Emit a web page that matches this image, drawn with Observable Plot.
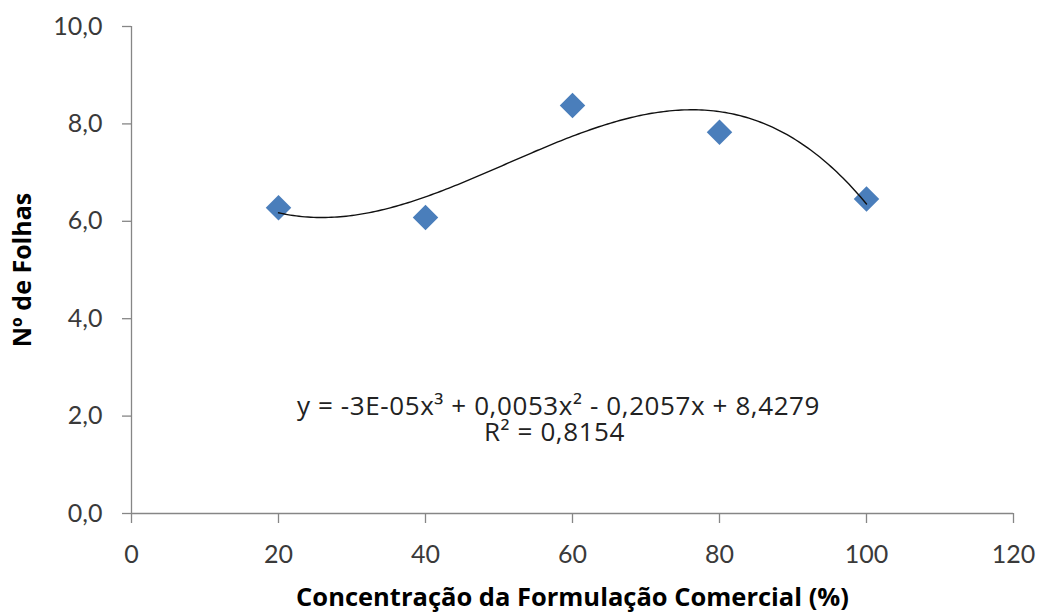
<!DOCTYPE html>
<html>
<head>
<meta charset="utf-8">
<script src="https://cdn.jsdelivr.net/npm/d3@7"></script>
<script src="https://cdn.jsdelivr.net/npm/@observablehq/plot@0.6"></script>
<style>
  html, body { margin: 0; padding: 0; background: #fff; }
</style>
</head>
<body>
<div id="chart"></div>
<script>
// ---- data ----
const concentration = [20, 40, 60, 80, 100];
const leaves = [6.28, 6.08, 8.38, 7.83, 6.46];
const xTicks = [0, 20, 40, 60, 80, 100, 120];
const yTicks = [0, 2, 4, 6, 8, 10];
const equationLines = ["y = -3E-05x³ + 0,0053x² - 0,2057x + 8,4279", "R² = 0,8154"];
const xLabel = "Concentração da Formulação Comercial (%)";
const yLabel = "Nº de Folhas";

const points = concentration.map((x, i) => ({x, y: leaves[i]}));

// Polynomial (order 3) least-squares trendline fitted to the points, as the source chart does
function polyfit(xs, ys, deg) {
  const n = deg + 1;
  const A = Array.from({length: n}, () => new Array(n + 1).fill(0));
  for (let k = 0; k < xs.length; k++) {
    for (let i = 0; i < n; i++) {
      for (let j = 0; j < n; j++) A[i][j] += Math.pow(xs[k], i + j);
      A[i][n] += ys[k] * Math.pow(xs[k], i);
    }
  }
  for (let c = 0; c < n; c++) {
    let p = c;
    for (let r = c + 1; r < n; r++) if (Math.abs(A[r][c]) > Math.abs(A[p][c])) p = r;
    [A[c], A[p]] = [A[p], A[c]];
    for (let r = 0; r < n; r++) {
      if (r === c) continue;
      const f = A[r][c] / A[c][c];
      for (let j = c; j <= n; j++) A[r][j] -= f * A[c][j];
    }
  }
  return A.map((row, i) => row[n] / row[i]);
}
const coef = polyfit(concentration, leaves, 3);
const fitAt = x => coef.reduce((s, c, i) => s + c * Math.pow(x, i), 0);
const xMin = d3.min(concentration), xMax = d3.max(concentration);
const trend = d3.range(0, 201).map(i => {
  const x = xMin + (xMax - xMin) * i / 200;
  return {x, y: fitAt(x)};
});

const fmtY = d => d.toFixed(1).replace(".", ",");

const chart = Plot.plot({
  width: 1038,
  height: 613,
  marginLeft: 131,
  marginRight: 25,
  marginTop: 26,
  marginBottom: 100,
  style: {fontFamily: "Lato, 'Open Sans', sans-serif", background: "#fff"},
  x: {domain: [0, 120], ticks: xTicks},
  y: {domain: [0, 10], ticks: yTicks},
  marks: [
    Plot.ruleX([0], {stroke: "#868686", strokeWidth: 1.3}),
    Plot.ruleY([0], {stroke: "#868686", strokeWidth: 1.3}),
    Plot.axisY(yTicks, {
      tickSize: 9, tickPadding: 20, stroke: "#868686", strokeWidth: 1.3,
      fill: "#3a3a3a", fontSize: 25, tickFormat: fmtY, label: null
    }),
    Plot.axisX(xTicks, {
      tickSize: 10, tickPadding: 22, stroke: "#868686", strokeWidth: 1.3,
      fill: "#3a3a3a", fontSize: 25, tickFormat: d => String(d), label: null
    }),
    Plot.dot(points, {
      x: "x", y: "y", symbol: "diamond2", r: 11.5,
      fill: "#4a7ebb", stroke: "none"
    }),
    Plot.line(trend, {x: "x", y: "y", stroke: "#111", strokeWidth: 1.4}),
    Plot.text([equationLines[0]], {
      frameAnchor: "bottom", textAnchor: "middle", lineAnchor: "bottom", dx: -14, dy: -99,
      fontSize: 26, fill: "#222", fontFamily: "'Open Sans', sans-serif"
    }),
    Plot.text([equationLines[1]], {
      frameAnchor: "bottom", textAnchor: "middle", lineAnchor: "bottom", dx: -18, dy: -73,
      fontSize: 26, fill: "#222", fontFamily: "'Open Sans', sans-serif"
    }),
    Plot.text([yLabel], {
      frameAnchor: "left", textAnchor: "middle", lineAnchor: "middle", dx: -109, rotate: -90,
      fontWeight: "bold", fontSize: 25, fill: "#000", fontFamily: "'Open Sans', sans-serif"
    }),
    Plot.text([xLabel], {
      frameAnchor: "bottom", textAnchor: "middle", lineAnchor: "middle", dy: 84,
      fontWeight: "bold", fontSize: 25.5, fill: "#000", fontFamily: "'Open Sans', sans-serif"
    })
  ]
});
d3.select(chart).selectAll("text")
  .filter(function() { return equationLines.includes(this.textContent); })
  .attr("letter-spacing", "0.6px");
document.getElementById("chart").appendChild(chart);
</script>
</body>
</html>
